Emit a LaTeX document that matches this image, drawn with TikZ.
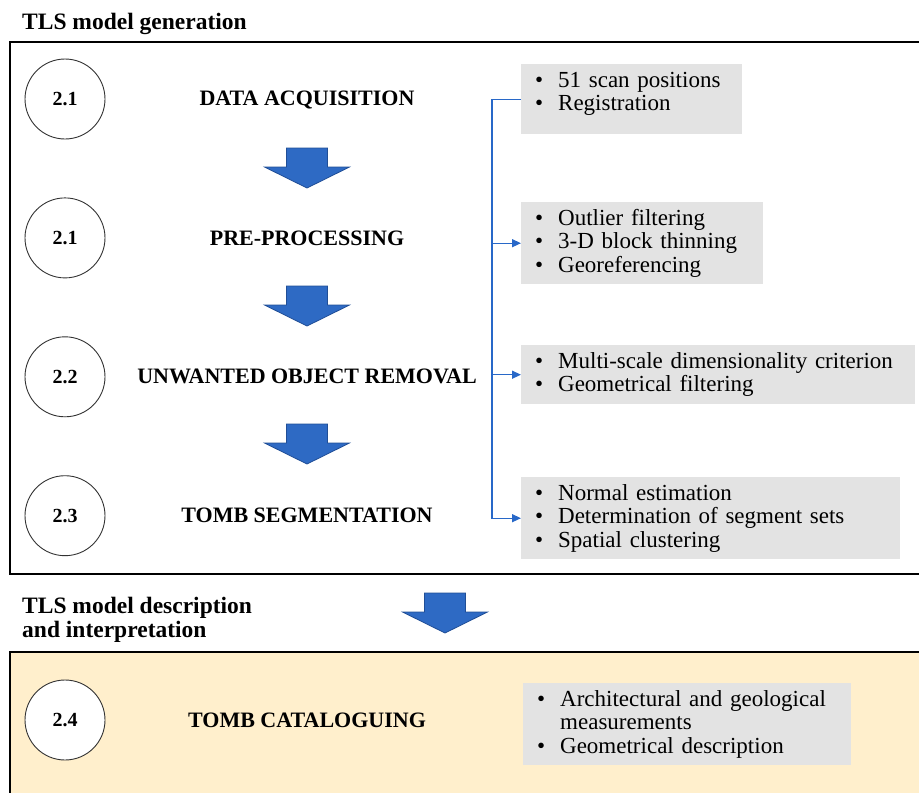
\documentclass[tikz,border=0pt]{standalone}
\usepackage{fontspec}
\setmainfont{Liberation Serif}
\usetikzlibrary{positioning, arrows.meta}

\definecolor{arrowblue}{RGB}{46,106,196}
\definecolor{arrowedge}{RGB}{32,78,150}
\definecolor{linkblue}{RGB}{40,104,200}
\definecolor{infogray}{RGB}{227,227,227}
\definecolor{cream}{RGB}{255,239,204}

\newcommand{\itm}[1]{\makebox[23pt][l]{\textbullet}#1}
\newcommand{\cnt}[1]{\hspace*{23pt}#1}

\begin{document}
\begin{tikzpicture}[
    x=1pt, y=-1pt,
    node distance=58pt,
    frame/.style={draw=black, line width=2.5pt},
    stepnum/.style={circle, draw=black!80, line width=0.9pt, minimum size=80pt, inner sep=0pt, fill=white, font=\fontsize{20}{24}\selectfont\bfseries},
    steplabel/.style={inner sep=0pt, font=\fontsize{22}{24}\selectfont\bfseries},
    heading/.style={anchor=north west, align=left, inner sep=0pt, font=\fontsize{23.5}{24}\selectfont\bfseries},
    info/.style={fill=infogray, anchor=north west, align=left, inner xsep=14pt, inner ysep=0pt, font=\fontsize{23}{23.4}\selectfont},
    bigarrow/.style={fill=arrowblue, draw=arrowedge, line width=0.8pt},
    link/.style={draw=linkblue, line width=1.4pt},
    linkarrow/.style={link, -{Triangle[length=9pt, width=8pt]}}
]
\useasboundingbox (0,0) rectangle (919,793);

% Frames
\draw[frame] (10,42) rectangle (940,574);
\draw[frame, fill=cream] (10,652) rectangle (940,830);

% Headings
\node[heading] (h1) at (22,13) {TLS model generation};
\node[heading] (h2) at (22,597) {TLS model description\\and interpretation};

% Step numbers
\node[stepnum] (c1) at (65,99) {2.1};
\node[stepnum, below=of c1] (c2) {2.1};
\node[stepnum, below=of c2] (c3) {2.2};
\node[stepnum, below=of c3] (c4) {2.3};
\node[stepnum] (c5) at (65,720) {2.4};

% Step labels
\node[steplabel] (l1) at (307,100) {DATA ACQUISITION};
\node[steplabel] (l2) at (l1 |- c2) {PRE-PROCESSING};
\node[steplabel] (l3) at (l1 |- c3) {UNWANTED OBJECT REMOVAL};
\node[steplabel] (l4) at (l1 |- c4) {TOMB SEGMENTATION};
\node[steplabel] (l5) at (l1 |- c5) {TOMB CATALOGUING};

% Block arrows
\foreach \ax/\ay in {307/148, 307/286, 307/424, 445/593}
  \draw[bigarrow] (\ax-20.5,\ay) -- ++(41,0) -- ++(0,19) -- ++(22,0) -- (\ax,\ay+40)
    -- (\ax-42.5,\ay+19) -- ++(22,0) -- cycle;

% Details
\node[info, text width=193pt, minimum height=70pt] (d1) at (521,64)
  {\itm{51 scan positions}\\\itm{Registration}\\[-8pt]\mbox{}};
\node[info, text width=214pt, minimum height=82pt] (d2) at (521,202)
  {\itm{Outlier filtering}\\\itm{3-D block thinning}\\\itm{Georeferencing}};
\node[info, text width=366pt, minimum height=59pt] (d3) at (521,345)
  {\itm{Multi-scale dimensionality criterion}\\\itm{Geometrical filtering}};
\node[info, text width=351pt, minimum height=82pt] (d4) at (521,477)
  {\itm{Normal estimation}\\\itm{Determination of segment sets}\\\itm{Spatial clustering}};
\node[info, text width=300pt, minimum height=82pt] (d5) at (523,683)
  {\itm{Architectural and geological}\\\cnt{measurements}\\\itm{Geometrical description}};

% Connectors
\draw[link] (d1.west) -- ++(-29,0) coordinate (bus);
\draw[linkarrow] (bus) |- (d4.west);
\foreach \n in {d2,d3}
  \draw[linkarrow] (bus |- \n.west) -- (\n.west);

\end{tikzpicture}
\end{document}
